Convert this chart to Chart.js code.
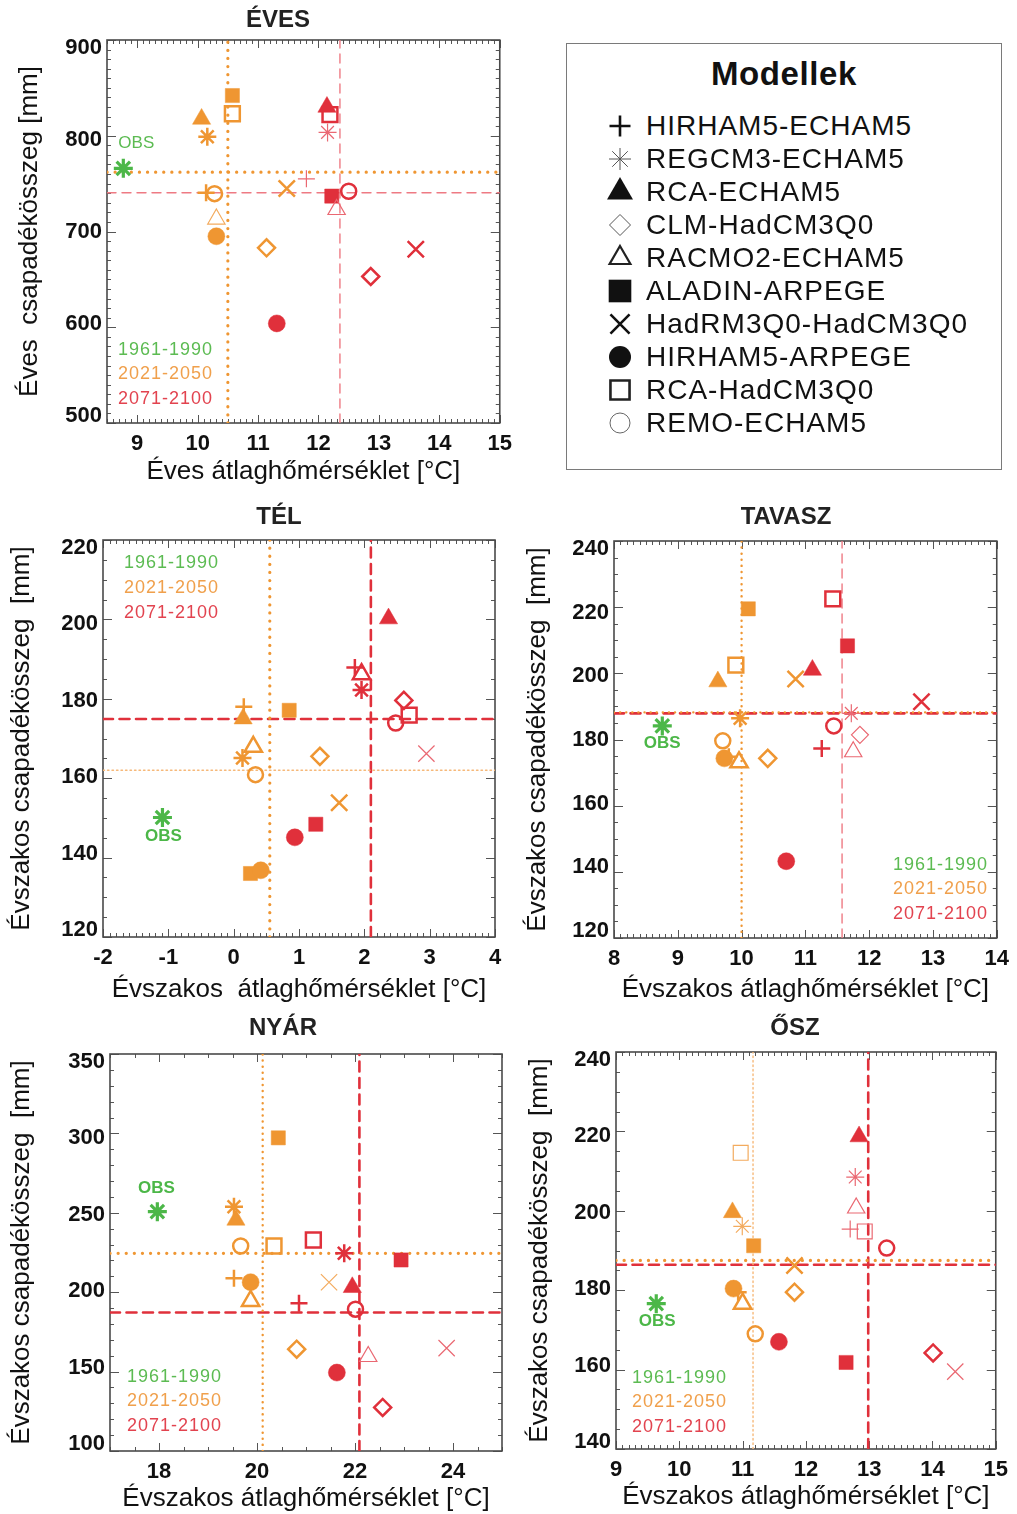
<!DOCTYPE html>
<html><head><meta charset="utf-8">
<script src="https://cdn.jsdelivr.net/npm/chart.js@4.4.1/dist/chart.umd.min.js"></script>
<style>
html,body{margin:0;padding:0;background:#fff}
body{width:1017px;height:1514px;position:relative;overflow:hidden;font-family:'Liberation Sans',Arial,sans-serif}
canvas{position:absolute}
#legend{position:absolute;left:566px;top:43px;width:436px;height:427px;border:1.5px solid #7a7a7a;box-sizing:border-box}
#legend .lt{position:absolute;left:0;width:100%;top:30px;transform:translateY(-50%);text-align:center;font-weight:bold;font-size:33px;color:#111;letter-spacing:0.6px}
#legend .row{position:absolute;left:0;height:34px;width:100%}
#legend .row canvas{left:36px;top:0}
#legend .row span{position:absolute;left:79px;top:50%;transform:translateY(-50%);font-size:28px;color:#111;letter-spacing:1px;white-space:nowrap}
</style></head>
<body>
<div id="legend"><div class="lt">Modellek</div></div>
<script>
// ---------------- DATA ----------------
const MODELS = ['HIRHAM5-ECHAM5','REGCM3-ECHAM5','RCA-ECHAM5','CLM-HadCM3Q0','RACMO2-ECHAM5','ALADIN-ARPEGE','HadRM3Q0-HadCM3Q0','HIRHAM5-ARPEGE','RCA-HadCM3Q0','REMO-ECHAM5'];
const PERIODS = ['1961-1990','2021-2050','2071-2100'];

// ÉVES (annual): temperature [°C] and precipitation [mm], model order as MODELS
const EVES_XTICKS = [9,10,11,12,13,14,15];
const EVES_YTICKS = [500,600,700,800,900];
const EVES_OBS = [8.77, 766];
const EVES_T_2021 = [10.14,10.16,10.065,11.14,10.31,10.575,11.475,10.31,10.575,10.28];
const EVES_P_2021 = [740.5,799,817.5,683,713,842,745,695,823,739.5];
const EVES_T_2071 = [11.80,12.15,12.14,12.865,12.30,12.22,13.61,11.31,12.19,12.50];
const EVES_P_2071 = [755,803.5,830,653,723,737,681.5,604,822,742];
const EVES_MEAN_2021 = [10.50, 762];
const EVES_MEAN_2071 = [12.355, 740.5];

// TÉL (winter)
const TEL_XTICKS = [-2,-1,0,1,2,3,4];
const TEL_YTICKS = [120,140,160,180,200,220];
const TEL_OBS = [-1.09, 150.1];
const TEL_T_2021 = [0.155,0.135,0.145,1.32,0.30,0.85,1.615,0.415,0.257,0.334];
const TEL_P_2021 = [178,165.1,175,165.5,167.9,177.1,153.8,136.8,136,160.9];
const TEL_T_2071 = [1.855,1.957,2.37,2.605,1.957,1.257,2.95,0.936,2.686,2.48];
const TEL_P_2071 = [187.9,182.2,200.2,179.6,186.2,148.4,166.2,145.1,175.9,173.9];
const TEL_MEAN_2021 = [0.553, 162];
const TEL_MEAN_2071 = [2.10, 174.9];

// TAVASZ (spring)
const TAV_XTICKS = [8,9,10,11,12,13,14];
const TAV_YTICKS = [120,140,160,180,200,220,240];
const TAV_OBS = [8.757, 184.1];
const TAV_T_2021 = [9.80,9.977,9.628,10.41,9.96,10.105,10.847,9.73,9.91,9.705];
const TAV_P_2021 = [174.8,186.4,197.5,174.3,173.1,219.5,198.3,174.3,202.5,179.6];
const TAV_T_2071 = [11.257,11.72,11.11,11.855,11.75,11.66,12.82,10.70,11.43,11.445];
const TAV_P_2071 = [177.3,187.9,201,181.4,176.3,208.3,191.4,143.2,222.5,184.1];
const TAV_MEAN_2021 = [10.0, 188.2];
const TAV_MEAN_2071 = [11.575, 187.9];

// NYÁR (summer)
const NYAR_XTICKS = [18,20,22,24];
const NYAR_YTICKS = [100,150,200,250,300,350];
const NYAR_OBS = [17.966, 250.7];
const NYAR_T_2021 = [19.53,19.53,19.57,20.81,19.87,20.435,21.47,19.87,20.347,19.667];
const NYAR_P_2021 = [208.8,253.8,245.5,164.1,194.5,297.2,206.3,206.3,229.1,229.1];
const NYAR_T_2071 = [20.857,21.78,21.945,22.565,22.27,22.94,23.87,21.63,21.15,22.01];
const NYAR_P_2071 = [193.1,224.5,203.1,127.4,159.5,220.3,164.8,149.4,232.9,189.3];
const NYAR_MEAN_2021 = [20.116, 224.5];
const NYAR_MEAN_2071 = [22.09, 187.2];

// ŐSZ (autumn)
const OSZ_XTICKS = [9,10,11,12,13,14,15];
const OSZ_YTICKS = [140,160,180,200,220,240];
const OSZ_OBS = [9.636, 176.6];
const OSZ_T_2021 = [10.93,10.995,10.84,11.82,11.0,11.175,11.82,10.857,10.97,11.2];
const OSZ_P_2021 = [179.5,196.1,199.6,179.5,176.6,191.2,186.2,180.4,214.6,169.0];
const OSZ_T_2071 = [12.70,12.78,12.84,14.01,12.795,12.635,14.36,11.574,12.93,13.277];
const OSZ_P_2071 = [195.4,208.5,218.7,164.2,200.7,161.8,159.5,167.0,194.8,190.6];
const OSZ_MEAN_2021 = [11.165, 187.5];
const OSZ_MEAN_2071 = [12.985, 186.4];

// ---------------- STYLE ----------------
const GREEN = '#4cb748', ORANGE = '#ef9632', RED = '#e0303b';
const ORANGE_L = '#f3ab5e', RED_L = '#ea6872';
const TXT_GREEN = '#5cbb52', TXT_ORANGE = '#f0a04c', TXT_RED = '#e2434f';
const FONT = "'Liberation Sans', Arial, sans-serif";
Chart.defaults.font.family = FONT;

const SYMBOLS = [
  {ps:'cross', r:8.5, fill:false},
  {ps:'star', r:9, fill:false},
  {ps:'triangle', r:10.5, fill:true},
  {ps:'rectRot', r:8.5, fill:false},
  {ps:'triangle', r:10, fill:false},
  {ps:'rect', r:10, fill:true},
  {ps:'crossRot', r:11.5, fill:false},
  {ps:'circle', r:8.5, fill:true},
  {ps:'rect', r:10.5, fill:false},
  {ps:'circle', r:7.5, fill:false}
];

const LINE_STYLE = {
  othick:{w:3.2, dash:[0.1,8], color:ORANGE},
  omed:{w:2.4, dash:[0.1,6], color:ORANGE},
  othin:{w:1.4, dash:[1.5,3], color:'#f6b878'},
  rthick:{w:2.6, dash:[10,6.5], color:RED},
  rthin:{w:1.4, dash:[9,6], color:'#ee7a83'}
};

const PANELS = [
  {title:'ÉVES', titlePos:[278,20], L:107,T:40,R:500,B:423, cLeft:0,cTop:0,pr:20,xh:70, xTitleOff:49, yTitleX:30,
   xMin:8.5,xMax:15,xMinor:0.1,yMin:500,yMax:900,yMinor:10, xTicks:EVES_XTICKS,yTicks:EVES_YTICKS,
   xTitle:'Éves átlaghőmérséklet [°C]', yTitle:'Éves  csapadékösszeg [mm]',
   obs:EVES_OBS, t1:EVES_T_2021,p1:EVES_P_2021,t2:EVES_T_2071,p2:EVES_P_2071, m1:EVES_MEAN_2021,m2:EVES_MEAN_2071,
   thin1:[4], thin2:[0,1,4], filled1:[], filled2:[],
   lines:{oV:'othick',oH:'othick',rV:'rthin',rH:'rthin'},
   obsLabel:{dx:13,dy:-25,bold:false,size:17}, periods:{x:118,y:350,align:'left',gap:24.5}},
  {title:'TÉL', titlePos:[279,517], L:103,T:540,R:495,B:937, cLeft:0,cTop:500,pr:20,xh:70, xTitleOff:53, yTitleX:22,
   xMin:-2,xMax:4,xMinor:0.1,yMin:120,yMax:220,yMinor:5, xTicks:TEL_XTICKS,yTicks:TEL_YTICKS,
   xTitle:'Évszakos  átlaghőmérséklet [°C]', yTitle:'Évszakos csapadékösszeg  [mm]',
   obs:TEL_OBS, t1:TEL_T_2021,p1:TEL_P_2021,t2:TEL_T_2071,p2:TEL_P_2071, m1:TEL_MEAN_2021,m2:TEL_MEAN_2071,
   thin1:[], thin2:[6], filled1:[8], filled2:[],
   lines:{oV:'othick',oH:'othin',rV:'rthick',rH:'rthick'},
   obsLabel:{dx:1,dy:19,bold:true,size:17}, periods:{x:124,y:563,align:'left',gap:25}},
  {title:'TAVASZ', titlePos:[786,517], L:614,T:541,R:1004,B:938, cLeft:514,cTop:500,pr:13,xh:70, xTitleOff:52, yTitleX:538,
   xMin:8,xMax:14,xMinor:0.1,yMin:120,yMax:240,yMinor:5, xTicks:TAV_XTICKS,yTicks:TAV_YTICKS,
   xTitle:'Évszakos átlaghőmérséklet [°C]', yTitle:'Évszakos csapadékösszeg  [mm]',
   obs:TAV_OBS, t1:TAV_T_2021,p1:TAV_P_2021,t2:TAV_T_2071,p2:TAV_P_2071, m1:TAV_MEAN_2021,m2:TAV_MEAN_2071,
   thin1:[], thin2:[1,3,4], filled1:[], filled2:[],
   lines:{oV:'omed',oH:'omed',rV:'rthin',rH:'rthick'},
   obsLabel:{dx:0,dy:17,bold:true,size:17}, periods:{x:988,y:865,align:'right',gap:24.5}},
  {title:'NYÁR', titlePos:[283,1028], L:110,T:1054,R:502,B:1451, cLeft:0,cTop:1010,pr:20,xh:63, xTitleOff:49, yTitleX:22,
   xMin:17,xMax:25,xMinor:0.5,yMin:100,yMax:350,yMinor:10, xTicks:NYAR_XTICKS,yTicks:NYAR_YTICKS,
   xTitle:'Évszakos átlaghőmérséklet [°C]', yTitle:'Évszakos csapadékösszeg  [mm]',
   obs:NYAR_OBS, t1:NYAR_T_2021,p1:NYAR_P_2021,t2:NYAR_T_2071,p2:NYAR_P_2071, m1:NYAR_MEAN_2021,m2:NYAR_MEAN_2071,
   thin1:[6], thin2:[4,6], filled1:[], filled2:[],
   lines:{oV:'omed',oH:'othick',rV:'rthick',rH:'rthick'},
   obsLabel:{dx:-1,dy:-23,bold:true,size:17}, periods:{x:127,y:1377,align:'left',gap:24.5}},
  {title:'ŐSZ', titlePos:[795,1028], L:616,T:1052,R:1006,B:1449, cLeft:516,cTop:1010,pr:10,xh:65, xTitleOff:48, yTitleX:540,
   xMin:9,xMax:15,xMinor:0.1,yMin:140,yMax:240,yMinor:5, xTicks:OSZ_XTICKS,yTicks:OSZ_YTICKS,
   xTitle:'Évszakos átlaghőmérséklet [°C]', yTitle:'Évszakos csapadékösszeg  [mm]',
   obs:OSZ_OBS, t1:OSZ_T_2021,p1:OSZ_P_2021,t2:OSZ_T_2071,p2:OSZ_P_2071, m1:OSZ_MEAN_2021,m2:OSZ_MEAN_2071,
   thin1:[1,8], thin2:[0,1,4,6,8], filled1:[], filled2:[],
   lines:{oV:'othin',oH:'othick',rV:'rthick',rH:'rthick'},
   obsLabel:{dx:1,dy:18,bold:true,size:17}, periods:{x:632,y:1378,align:'left',gap:24.5}}
];

const TICK_FONT = {size:22, weight:'bold'};
const TITLE_FONT = {size:26};

// ---------------- PLUGIN: frame, inner ticks, texts ----------------
const framePlugin = {
  id:'frame',
  beforeDatasetsDraw(chart, args, opts){
    const P = opts.p; if(!P) return;
    const {ctx, chartArea:a, scales:{x,y}} = chart;
    ctx.save();
    ctx.strokeStyle = '#555'; ctx.lineWidth = 1;
    const seg = (x1,y1,x2,y2)=>{ctx.beginPath();ctx.moveTo(x1,y1);ctx.lineTo(x2,y2);ctx.stroke();};
    const nx = Math.round((P.xMax-P.xMin)/P.xMinor);
    for(let i=0;i<=nx;i++){
      const v = P.xMin + i*P.xMinor;
      const isMaj = P.xTicks.some(t=>Math.abs(t-v)<1e-6);
      const len = isMaj?8:4;
      const px = Math.round(x.getPixelForValue(v))+0.5;
      seg(px,a.bottom,px,a.bottom-len); seg(px,a.top,px,a.top+len);
    }
    const ny = Math.round((P.yMax-P.yMin)/P.yMinor);
    for(let i=0;i<=ny;i++){
      const v = P.yMin + i*P.yMinor;
      const isMaj = P.yTicks.some(t=>Math.abs(t-v)<1e-6);
      const len = isMaj?9:4;
      const py = Math.round(y.getPixelForValue(v))+0.5;
      seg(a.left,py,a.left+len,py); seg(a.right,py,a.right-len,py);
    }
    ctx.lineWidth = 1.6; ctx.strokeStyle = '#4a4a4a';
    ctx.strokeRect(a.left,a.top,a.right-a.left,a.bottom-a.top);
    ctx.restore();
  },
  afterDraw(chart, args, opts){
    const P = opts.p; if(!P) return;
    const {ctx, chartArea:a, scales:{x,y}} = chart;
    ctx.save();
    // y tick labels (positions from the y scale, pulled slightly inward like the original)
    ctx.fillStyle = '#111'; ctx.font = 'bold 22px '+FONT; ctx.textAlign='right'; ctx.textBaseline='middle';
    const h = a.bottom - a.top;
    y.ticks.forEach(t=>{
      const py = y.getPixelForValue(t.value);
      const adj = a.top + 8 + (py - a.top) * (h - 15) / h;
      ctx.fillText(String(t.value), a.left - 5, adj);
    });
    // panel title
    ctx.fillStyle = '#222'; ctx.font = 'bold 24px '+FONT; ctx.textAlign='center'; ctx.textBaseline='middle';
    ctx.fillText(P.title, P.titlePos[0]-P.cLeft, P.titlePos[1]-P.cTop);
    // OBS label
    const ox = x.getPixelForValue(P.obs[0]), oy = y.getPixelForValue(P.obs[1]);
    ctx.fillStyle = P.obsLabel.bold ? GREEN : TXT_GREEN;
    ctx.font = (P.obsLabel.bold?'bold ':'')+P.obsLabel.size+'px '+FONT;
    ctx.fillText('OBS', ox+P.obsLabel.dx, oy+P.obsLabel.dy);
    // period labels
    ctx.font = '18px '+FONT;
    try{ ctx.letterSpacing = '1px'; }catch(e){}
    ctx.textAlign = P.periods.align;
    const cols = [TXT_GREEN, TXT_ORANGE, TXT_RED];
    PERIODS.forEach((t,i)=>{
      ctx.fillStyle = cols[i];
      ctx.fillText(t, P.periods.x-P.cLeft, P.periods.y-P.cTop+i*P.periods.gap);
    });
    ctx.restore();
  }
};
Chart.register(framePlugin);

// ---------------- BUILD ----------------
function modelDatasets(T, Pr, color, colorL, thin, filledOv){
  return MODELS.map((m,i)=>{
    const s = SYMBOLS[i];
    const isThin = thin.includes(i);
    const fill = s.fill || filledOv.includes(i);
    const c = isThin ? colorL : color;
    return {
      label:m, data:[{x:T[i], y:Pr[i]}],
      pointStyle:s.ps, pointRadius:(fill && !s.fill)?10:s.r,
      pointBackgroundColor: fill ? c : 'rgba(0,0,0,0)',
      pointBorderColor:c, pointBorderWidth: fill ? 0.5 : (isThin?1.2:2.5),
      showLine:false, order:1
    };
  });
}
function meanLine(vertical, value, P, styleKey){
  const st = LINE_STYLE[styleKey];
  const data = vertical ? [{x:value,y:P.yMin},{x:value,y:P.yMax}] : [{x:P.xMin,y:value},{x:P.xMax,y:value}];
  return {label:'mean', data, showLine:true, pointRadius:0, borderColor:st.color, borderWidth:st.w,
          borderDash:st.dash, borderCapStyle:'round', fill:false, order:5};
}

PANELS.forEach(P=>{
  const yw = P.L - P.cLeft, pt = P.T - P.cTop;
  const W = P.R - P.cLeft + P.pr, H = P.B - P.cTop + P.xh;
  const cv = document.createElement('canvas');
  cv.width = W; cv.height = H;
  cv.style.left = P.cLeft+'px'; cv.style.top = P.cTop+'px';
  cv.style.width = W+'px'; cv.style.height = H+'px';
  document.body.appendChild(cv);
  const tLH = TITLE_FONT.size*1.2;
  const datasets = [
    meanLine(true, P.m1[0], P, P.lines.oV),
    meanLine(false, P.m1[1], P, P.lines.oH),
    meanLine(true, P.m2[0], P, P.lines.rV),
    meanLine(false, P.m2[1], P, P.lines.rH),
    ...modelDatasets(P.t1, P.p1, ORANGE, ORANGE_L, P.thin1, P.filled1),
    ...modelDatasets(P.t2, P.p2, RED, RED_L, P.thin2, P.filled2),
    {label:'OBS', data:[{x:P.obs[0], y:P.obs[1]}], pointStyle:'star', pointRadius:9.5,
     pointBorderColor:GREEN, pointBackgroundColor:GREEN, pointBorderWidth:3.2, showLine:false, order:0}
  ];
  new Chart(cv, {
    type:'scatter',
    data:{datasets},
    options:{
      responsive:false, animation:false, devicePixelRatio:1, events:[],
      layout:{padding:{top:pt, right:P.pr, left:0, bottom:0}},
      plugins:{legend:{display:false}, tooltip:{enabled:false}, frame:{p:P}},
      scales:{
        x:{type:'linear', min:P.xMin, max:P.xMax,
           afterBuildTicks:s=>{ s.ticks = P.xTicks.map(v=>({value:v})); },
           afterFit:s=>{ s.height = P.xh; },
           grid:{display:false, drawTicks:false}, border:{display:false},
           ticks:{font:TICK_FONT, color:'#111', padding:8, maxRotation:0, autoSkip:false, includeBounds:false},
           title:{display:true, text:P.xTitle, font:TITLE_FONT, color:'#111',
                  padding:{top:0, bottom: Math.max(0, P.xh - tLH/2 - P.xTitleOff)}}},
        y:{type:'linear', min:P.yMin, max:P.yMax,
           afterBuildTicks:s=>{ s.ticks = P.yTicks.map(v=>({value:v})); },
           afterFit:s=>{ s.width = yw; },
           grid:{display:false, drawTicks:false}, border:{display:false},
           ticks:{display:false, font:TICK_FONT, color:'#111', padding:5, autoSkip:false, includeBounds:false},
           title:{display:true, text:P.yTitle, font:TITLE_FONT, color:'#111',
                  padding:{top: P.yTitleX - P.cLeft - tLH/2, bottom:0}}}
      }
    }
  });
});

// ---------------- LEGEND (symbols via Chart.js point drawer) ----------------
const LEG_SYM = [
  {r:10.5,w:2.6,fill:false,c:'#111'},
  {r:11,w:1,fill:false,c:'#555'},
  {r:15,w:0,fill:true,c:'#111'},
  {r:10.5,w:1,fill:false,c:'#555'},
  {r:12,w:2.2,fill:false,c:'#222'},
  {r:16,w:0,fill:true,c:'#111'},
  {r:13.5,w:2.6,fill:false,c:'#111'},
  {r:11,w:0,fill:true,c:'#111'},
  {r:13.5,w:2.6,fill:false,c:'#222'},
  {r:10,w:1,fill:false,c:'#666'}
];
const legend = document.getElementById('legend');
MODELS.forEach((m,i)=>{
  const row = document.createElement('div'); row.className='row';
  const cy = 125 + 33*i - 43; row.style.top = (cy-17)+'px';
  const c = document.createElement('canvas'); c.width=34; c.height=34;
  row.appendChild(c);
  const sp = document.createElement('span'); sp.textContent = m; row.appendChild(sp);
  legend.appendChild(row);
  const ctx = c.getContext('2d');
  const s = LEG_SYM[i];
  ctx.fillStyle = s.fill ? s.c : 'rgba(0,0,0,0)';
  ctx.strokeStyle = s.c; ctx.lineWidth = s.w || 0.01;
  const opts = {pointStyle:SYMBOLS[i].ps, rotation:0, radius:s.r, borderWidth:s.w};
  if (Chart.helpers && Chart.helpers.drawPoint) Chart.helpers.drawPoint(ctx, opts, 17, 17);
});
</script>
</body></html>
